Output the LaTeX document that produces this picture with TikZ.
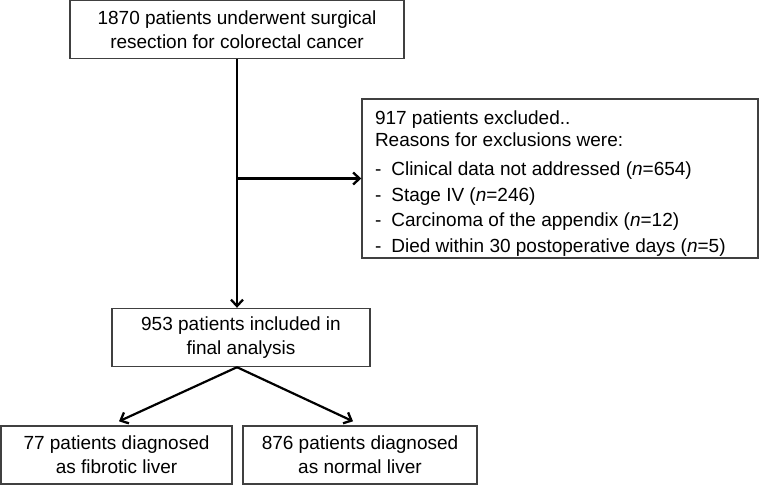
\documentclass[tikz,border=0pt]{standalone}
\usepackage{fontspec}
\setmainfont{Liberation Sans}
\usetikzlibrary{arrows.meta}
\usetikzlibrary{positioning}

\begin{document}
\begin{tikzpicture}[x=1pt,y=1pt,>={Straight Barb[length=6.5pt,width=12pt,line width=2.3pt]},line width=1.4pt,
  font=\fontsize{19}{24}\selectfont]
 \tikzset{
 	flow box/.style={rectangle,draw=black!75,inner sep=0,align=center,minimum height=58pt},
 	excl box/.style={rectangle,draw=black!75,inner sep=0,minimum width=396pt,minimum height=159pt},
 	reason text/.style={anchor=north west,align=left,inner sep=0,font=\fontsize{19}{25.5}\selectfont},
 	flow arrow/.style={->,line width=2.2pt}
 }
 \newcommand{\reasondash}{-\hspace{10pt}}
 \useasboundingbox (0,0) rectangle (759,-489);

       \node[flow box,minimum width=334pt] (surg) at (237,-29.5) {1870 patients underwent surgical\\resection for colorectal cancer};
       \node[excl box] (excl) at (560,-178.5) {};
       \node[reason text] (reasons) at ([xshift=13pt,yshift=-12pt]excl.north west)
        {917 patients excluded..\\[-3.5pt]Reasons for exclusions were:\\[3.5pt]%
         \reasondash Clinical data not addressed (\textit{n}=654)\\%
         \reasondash Stage IV (\textit{n}=246)\\%
         \reasondash Carcinoma of the appendix (\textit{n}=12)\\%
         \reasondash Died within 30 postoperative days (\textit{n}=5)};
       \node[flow box,minimum width=258pt] (incl) at (241,-337.5) {953 patients included in\\final analysis};
       \node[flow box,minimum width=231pt] (fib) at (116.5,-455) {77 patients diagnosed\\as fibrotic liver};
       \node[flow box,minimum width=234pt] (norm) at (360,-455) {876 patients diagnosed\\as normal liver};

       \coordinate (split) at (surg.south |- excl.west);

     \draw[flow arrow] (surg.south) -- (surg.south |- incl.north);
     \draw[flow arrow] (split) -- (excl.west);
     \draw[flow arrow] (surg.south |- incl.south) -- ([xshift=-118pt,yshift=4pt]surg.south |- fib.north);
     \draw[flow arrow] (surg.south |- incl.south) -- ([xshift=116pt,yshift=4pt]surg.south |- norm.north);
\end{tikzpicture}
\end{document}
